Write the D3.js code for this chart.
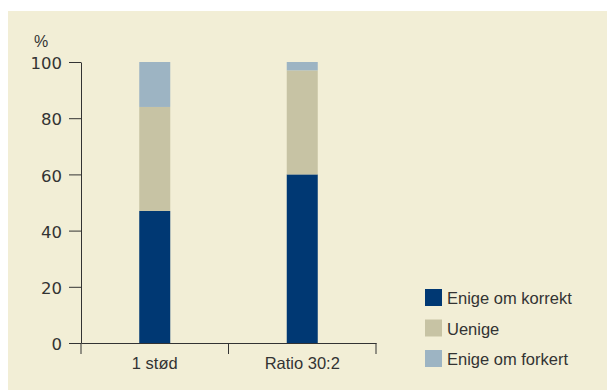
<!DOCTYPE html>
<html>
<head>
<meta charset="utf-8">
<script src="https://cdn.jsdelivr.net/npm/d3@7"></script>
<style>
  body { margin: 0; background: #fff; }
  svg text { font-family: "Liberation Sans", Arial, sans-serif; fill: #333; }
</style>
</head>
<body>
<svg id="chart" width="607" height="390"></svg>
<script>
var categories = ["1 stød", "Ratio 30:2"];
var seriesNames = ["Enige om korrekt", "Uenige", "Enige om forkert"];
var korrekt = [47, 60];
var uenige = [37, 37];
var forkert = [16, 3];
var yTicks = [0, 20, 40, 60, 80, 100];
var colors = ["#003873", "#c7c3a4", "#9db4c3"];

var svg = d3.select("#chart");

// background panel
svg.append("rect")
  .attr("x", 8)
  .attr("y", 11)
  .attr("width", 599)
  .attr("height", 379)
  .attr("fill", "#f2eed6");

var margin = { left: 81, top: 62, bottom: 343, right: 376 };

var x = d3.scaleBand()
  .domain(categories)
  .range([margin.left, margin.right]);

var y = d3.scaleLinear()
  .domain([0, 100])
  .range([margin.bottom, margin.top]);

var rows = categories.map(function (c, i) {
  return { cat: c, korrekt: korrekt[i], uenige: uenige[i], forkert: forkert[i] };
});

var stack = d3.stack().keys(["korrekt", "uenige", "forkert"]);
var layers = stack(rows);

var barWidth = 31;

svg.selectAll("g.layer")
  .data(layers)
  .enter().append("g")
  .attr("class", "layer")
  .attr("fill", function (d, i) { return colors[i]; })
  .selectAll("rect")
  .data(function (d) { return d; })
  .enter().append("rect")
  .attr("x", function (d) { return x(d.data.cat) + x.bandwidth() / 2 - barWidth / 2; })
  .attr("width", barWidth)
  .attr("y", function (d) { return y(d[1]); })
  .attr("height", function (d) { return y(d[0]) - y(d[1]); });

// y axis
var yAxis = svg.append("g")
  .attr("transform", "translate(" + margin.left + ",0)")
  .call(d3.axisLeft(y).tickValues(yTicks).tickSize(12).tickPadding(7).tickSizeOuter(0));

// x axis
var xAxis = svg.append("g")
  .attr("transform", "translate(0," + margin.bottom + ")")
  .call(d3.axisBottom(x).tickSize(0).tickPadding(14).tickSizeOuter(0));

// x axis boundary ticks between categories
var xBounds = [margin.left, margin.left + x.step(), margin.right];
svg.selectAll("line.xb")
  .data(xBounds)
  .enter().append("line")
  .attr("class", "xb")
  .attr("x1", function (d) { return d; })
  .attr("x2", function (d) { return d; })
  .attr("y1", margin.bottom)
  .attr("y2", margin.bottom + 11)
  .attr("stroke", "#333");

[yAxis, xAxis].forEach(function (g) {
  g.selectAll("path, line").attr("stroke", "#333");
  g.selectAll("text")
    .style("font-size", "16.5px")
    .attr("fill", "#333")
    .style("font-family", "\"Liberation Sans\", Arial, sans-serif");
});
yAxis.selectAll("text")
  .style("font-family", "\"DejaVu Sans\", sans-serif")
  .attr("dy", "0.4em");

svg.append("text")
  .attr("x", 34)
  .attr("y", 47)
  .style("font-size", "16px")
  .text("%");

// legend
var legend = svg.selectAll("g.legend")
  .data(seriesNames)
  .enter().append("g")
  .attr("class", "legend")
  .attr("transform", function (d, i) { return "translate(425," + (289 + i * 30.5) + ")"; });

legend.append("rect")
  .attr("width", 17)
  .attr("height", 17)
  .attr("fill", function (d, i) { return colors[i]; });

legend.append("text")
  .attr("x", 22)
  .attr("y", 15)
  .style("font-size", "16.5px")
  .text(function (d) { return d; });
</script>
</body>
</html>
